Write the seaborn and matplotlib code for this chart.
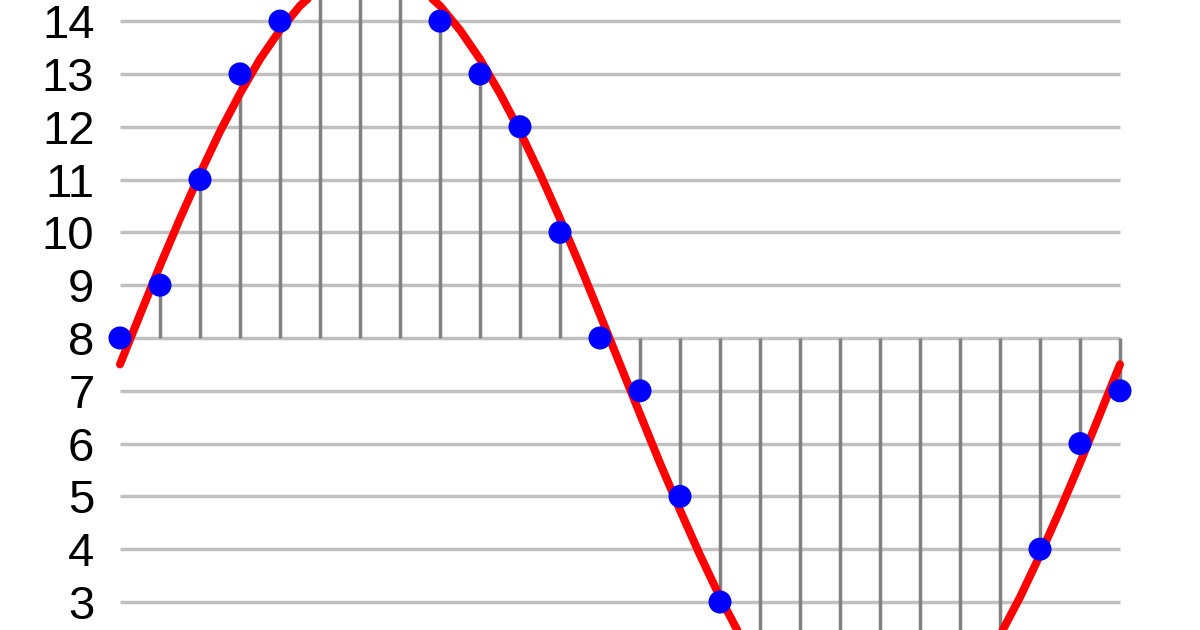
import matplotlib
matplotlib.use("Agg")
import matplotlib.pyplot as plt
import seaborn as sns
import pandas as pd
import numpy as np

# quantised samples (4-bit levels), one per sample index
sample_idx = list(range(26))
sample_val = [8, 9, 11, 13, 14, 15, 15, 15, 14, 13, 12, 10, 8,
              7, 5, 3, 2, 1, 0, 0, 0, 1, 2, 4, 6, 7]

signal_t = [i / 2 for i in range(51)]
signal_val = [7.50, 8.44, 9.37, 10.26, 11.11, 11.91, 12.63, 13.28, 13.83, 14.29,
              14.63, 14.87, 14.99, 14.99, 14.87, 14.63, 14.29, 13.83, 13.28, 12.63,
              11.91, 11.11, 10.26, 9.37, 8.44, 7.50, 6.56, 5.63, 4.74, 3.89,
              3.09, 2.37, 1.72, 1.17, 0.71, 0.37, 0.13, 0.01, 0.01, 0.13,
              0.37, 0.71, 1.17, 1.72, 2.37, 3.09, 3.89, 4.74, 5.63, 6.56, 7.50]

levels = list(range(0, 16))
baseline = 8

samples = pd.DataFrame({"t": sample_idx, "v": sample_val})
signal = pd.DataFrame({"t": signal_t, "v": signal_val})

sns.set_theme(style="white")
plt.rcParams["font.family"] = ["Liberation Sans", "DejaVu Sans"]

fig = plt.figure(figsize=(12, 6.3), dpi=100)
ax = fig.add_axes([0, 0, 1, 1])

# horizontal level lines
ax.hlines(levels, 0, 25, color="#c0c0c0", lw=2.5, zorder=1)
# stems from the baseline to each sample
ax.vlines(samples["t"], baseline, samples["v"], color="#808080", lw=2.5, zorder=2)

sns.lineplot(data=signal, x="t", y="v", color="#ff0000", lw=5.8,
             ax=ax, zorder=3, sort=False)
sns.scatterplot(data=samples, x="t", y="v", color="#0000ff", s=275,
                edgecolor="none", ax=ax, zorder=4)

ax.set_yticks(levels)
ax.set_yticklabels([str(l) for l in levels])
ax.set_xticks([])
ax.tick_params(axis="y", length=0, pad=-68, labelsize=34, labelcolor="black")
for lab in ax.get_yticklabels():
    lab.set_horizontalalignment("right")
ax.set_xlabel("")
ax.set_ylabel("")
for s in ax.spines.values():
    s.set_visible(False)

# view window (set last so tick setting does not widen it)
ax.set_xlim(-3.0, 27.0)
ax.set_ylim(2.47, 14.40)

fig.savefig("out.png", dpi=100)
